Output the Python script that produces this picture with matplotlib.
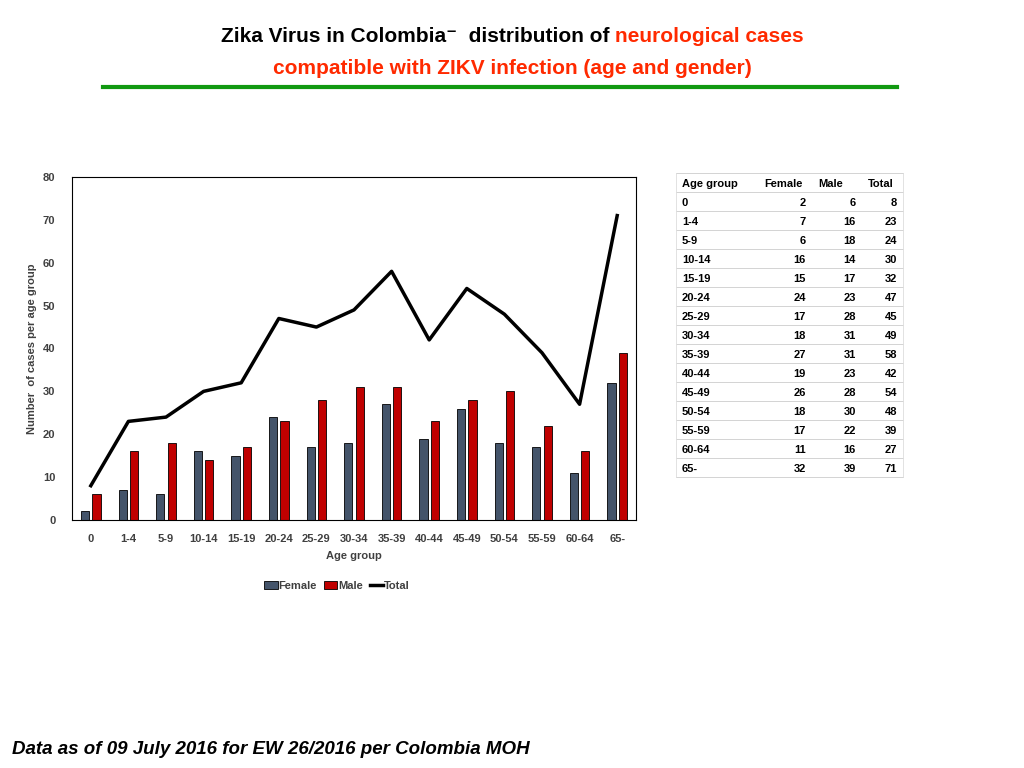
import matplotlib
matplotlib.use("Agg")
import matplotlib.pyplot as plt
import numpy as np

ages = ["0","1-4","5-9","10-14","15-19","20-24","25-29","30-34","35-39","40-44","45-49","50-54","55-59","60-64","65-"]
female = [2,7,6,16,15,24,17,18,27,19,26,18,17,11,32]
male = [6,16,18,14,17,23,28,31,31,23,28,30,22,16,39]
total = [8,23,24,30,32,47,45,49,58,42,54,48,39,27,71]

plt.rcParams['font.family'] = ['Liberation Sans', 'DejaVu Sans']
fig = plt.figure(figsize=(10.24, 7.68), dpi=100)
W, H = 1024, 768
def fx(x): return x / W
def fy(y): return 1 - y / H

ax = fig.add_axes([fx(72), fy(520), (636-72)/W, (520-177)/H])
x = np.arange(len(ages))
bw = 0.22
hf = ax.bar(x - bw/2 - 0.04, female, bw, color="#44546A", edgecolor="black", linewidth=0.6, label="Female")
hm = ax.bar(x + bw/2 + 0.04, male, bw, color="#C00000", edgecolor="black", linewidth=0.6, label="Male")
ht, = ax.plot(x, total, color="black", linewidth=2.5, label="Total")
ax.set_xlim(-0.5, len(ages) - 0.5)
ax.set_ylim(0, 80)
ax.set_yticks(range(0, 81, 10))
ax.set_xticks(x)
ax.set_xticklabels(ages)
ax.tick_params(length=0, labelsize=8, colors="#404040")
ax.tick_params(axis="x", pad=10)
ax.tick_params(axis="y", pad=12)
for s in ax.spines.values():
    s.set_linewidth(0.8)
for t in ax.get_xticklabels() + ax.get_yticklabels():
    t.set_fontweight("bold")
ax.set_xlabel("Age group", fontsize=8, fontweight="bold", color="#404040", labelpad=5)
ax.set_ylabel("Number  of cases per age group", fontsize=8, fontweight="bold", color="#404040", labelpad=4)
leg = fig.legend([hf, hm, ht], ["Female", "Male", "Total"], loc="center", bbox_to_anchor=(fx(337), fy(586)),
                 ncol=3, frameon=False, fontsize=8, handlelength=1.2, columnspacing=0.6, handletextpad=0.1)
for t in leg.get_texts():
    t.set_fontweight("bold"); t.set_color("#404040")

# Table
top = 173
rh = 19.0
header = ["Age group", "Female", "Male", "Total"]
rows = [header] + [[a, str(f), str(m), str(t)] for a, f, m, t in zip(ages, female, male, total)]
kw = dict(fontsize=8, fontweight="bold", va="center_baseline")
for i, r in enumerate(rows):
    yc = top + rh * (i + 0.55)
    fig.text(fx(682), fy(yc), r[0], ha="left", **kw)
    if i == 0:
        fig.text(fx(764), fy(yc), r[1], ha="left", **kw)
        fig.text(fx(818), fy(yc), r[2], ha="left", **kw)
        fig.text(fx(868), fy(yc), r[3], ha="left", **kw)
    else:
        fig.text(fx(806), fy(yc), r[1], ha="right", **kw)
        fig.text(fx(856), fy(yc), r[2], ha="right", **kw)
        fig.text(fx(897), fy(yc), r[3], ha="right", **kw)
for i in range(len(rows) + 1):
    yy = fy(top + rh * i)
    fig.add_artist(plt.Line2D([fx(676), fx(903)], [yy, yy], color="#cccccc", linewidth=0.6))
for cx in [676, 903]:
    fig.add_artist(plt.Line2D([fx(cx), fx(cx)], [fy(top), fy(top + rh * len(rows))], color="#dddddd", linewidth=0.6))

# Title with mixed colors
fig.canvas.draw()
r = fig.canvas.get_renderer()
def mixed(parts, y, size=15):
    texts = [fig.text(0, fy(y), s, color=c, fontsize=size, fontweight="bold", va="center") for s, c in parts]
    widths = [t.get_window_extent(r).width for t in texts]
    start = W / 2 - sum(widths) / 2
    for t, w in zip(texts, widths):
        t.set_x(fx(start)); start += w
mixed([("Zika Virus in Colombia\u207b  distribution of ", "black"), ("neurological cases", "#FF2A00")], 36)
mixed([("compatible with ZIKV infection (age and gender)", "#FF2A00")], 68)
fig.add_artist(plt.Line2D([fx(103), fx(897)], [fy(87), fy(87)], color="#119911", linewidth=3))

fig.text(fx(12), fy(750), "Data as of 09 July 2016 for EW 26/2016 per Colombia MOH", fontsize=13.5,
         fontweight="bold", fontstyle="italic", va="center")
fig.savefig("out.png", dpi=100)
